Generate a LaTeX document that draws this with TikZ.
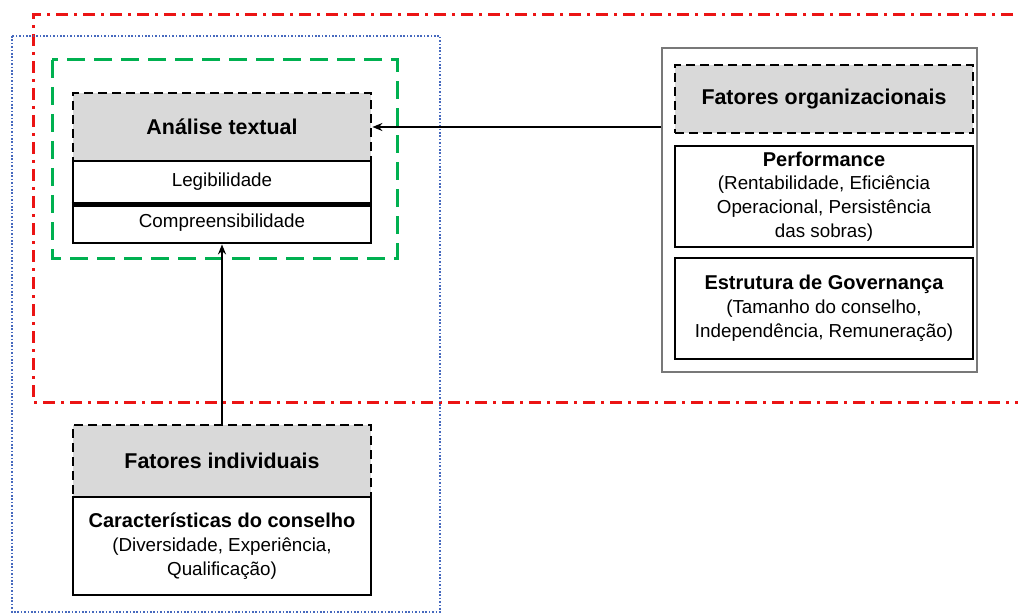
\documentclass[tikz,border=0pt]{standalone}
\usepackage{fontspec}
\setmainfont{Liberation Sans}
\usetikzlibrary{arrows.meta}
\definecolor{hdrgray}{RGB}{217,217,217}
\definecolor{redline}{RGB}{235,20,20}
\definecolor{blueline}{RGB}{70,105,190}
\definecolor{greenline}{RGB}{0,176,80}
\definecolor{outergray}{RGB}{120,120,120}
\tikzset{
  hdr/.style={draw=black, fill=hdrgray, line width=2.8pt, dash pattern=on 9pt off 5pt,
     rectangle, inner sep=0pt, font=\fontsize{21.4}{25}\selectfont\bfseries},
  wbox/.style={draw=black, fill=white, line width=2.8pt, rectangle, inner sep=0pt,
     align=center, font=\fontsize{18.8}{23.8}\selectfont},
  arr/.style={draw=black, line width=2.3pt, -{Stealth[length=10pt,width=8pt]}},
  ttl/.style={font=\fontsize{20}{23.8}\selectfont\bfseries}
}
\begin{document}
\begin{tikzpicture}[x=1pt,y=-1pt]
\useasboundingbox (0,0) rectangle (1018,615);
% red dash-dot region (open to the right)
\draw[redline, line width=3pt, dash pattern=on 12pt off 6pt on 3pt off 6pt]
  (1040,15) -- (33,15) -- (33,402) -- (1040,402);
% blue dotted region
\draw[blueline, line width=2.2pt, dash pattern=on 1.6pt off 1.8pt]
  (12,36) rectangle (440,612);
% green dashed region
\draw[greenline, line width=3pt, dash pattern=on 18pt off 9pt]
  (52,60) rectangle (397,258);

% Analise textual block
\node[hdr, minimum width=298pt, minimum height=68pt] (ahead) at (222,127) {Análise textual};
\node[wbox, minimum width=298pt, minimum height=42pt] (leg) at (222,182) {Legibilidade};
\node[wbox, minimum width=298pt, minimum height=40pt] (comp) at (222,223) {Compreensibilidade};
\draw[line width=4.5pt] (leg.south west) -- (leg.south east);

% right outer box
\node[draw=outergray, line width=1.4pt, rectangle, minimum width=315pt, minimum height=324pt, inner sep=0pt] (rbox) at (819.5,210) {};
\node[hdr, minimum width=298pt, minimum height=68pt] (org) at (824,99) {Fatores organizacionais};
\node[wbox, minimum width=298pt, minimum height=101pt] (perf) at (824,196.5)
  {{\fontsize{20}{23.8}\selectfont\bfseries Performance}\\(Rentabilidade, Eficiência\\Operacional, Persistência\\das sobras)};
\node[wbox, minimum width=298pt, minimum height=101pt] (gov) at (824,308.5)
  {{\fontsize{20}{23.8}\selectfont\bfseries Estrutura de Governança}\\(Tamanho do conselho,\\Independência, Remuneração)};

% Fatores individuais block
\node[hdr, minimum width=298pt, minimum height=72pt] (ind) at (222,461) {Fatores individuais};
\node[wbox, minimum width=298pt, minimum height=98pt] (car) at (222,546)
  {{\fontsize{20}{23.8}\selectfont\bfseries Características do conselho}\\(Diversidade, Experiência,\\Qualificação)};

% connectors
\draw[arr] (ahead.east -| rbox.west) -- (ahead.east);
\draw[arr] (ind.north) -- (comp.south);
\end{tikzpicture}
\end{document}
